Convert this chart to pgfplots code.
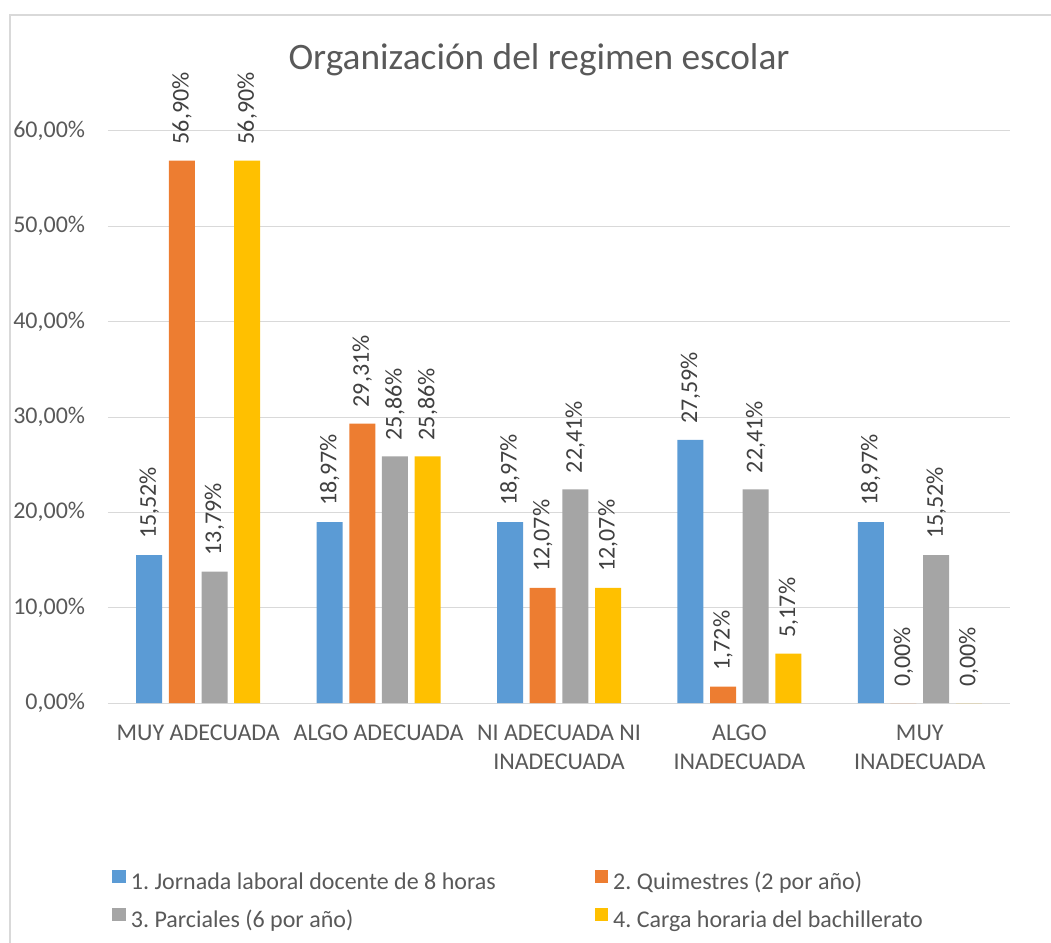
\documentclass[border=0pt]{standalone}
\usepackage{fontspec}
\setmainfont{Carlito}
\usepackage{pgfplots}
\pgfplotsset{compat=1.18}
\definecolor{sA}{HTML}{5B9BD5}
\definecolor{sB}{HTML}{ED7D31}
\definecolor{sC}{HTML}{A5A5A5}
\definecolor{sD}{HTML}{FFC000}
\definecolor{txt}{HTML}{595959}
\definecolor{lbl}{HTML}{404040}
\definecolor{grd}{HTML}{D9D9D9}
\frenchspacing
\begin{document}
\begin{tikzpicture}
\useasboundingbox (-81pt,-180pt) rectangle (707.25pt,527.25pt);
\draw[grd, line width=1.5pt] (-73.5pt,-185pt) -- (-73.5pt,516pt) -- (712pt,516pt);
\begin{axis}[
  at={(0pt,0pt)}, anchor=south west,
  scale only axis, width=676.5pt, height=429pt,
  xmin=-0.5, xmax=4.5, ymin=0, ymax=60,
  enlargelimits=false, clip=false,
  ybar=5pt, bar width=19.5pt,
  axis line style={draw=none},
  major tick length=0pt,
  ymajorgrids, major grid style={grd, line width=0.75pt},
  ytick={0,10,...,60},
  xtick={0,1,2,3,4},
  xticklabels={MUY ADECUADA, ALGO ADECUADA, {NI ADECUADA NI\\INADECUADA}, {ALGO\\INADECUADA}, {MUY\\INADECUADA}},
  /pgf/number format/assume math mode=true,
  yticklabel={\pgfmathprintnumber[fixed,fixed zerofill,precision=2,use comma]{\tick}\%},
  yticklabel style={font=\fontsize{18}{21.6}\selectfont, text=txt, inner sep=0pt, xshift=-17pt, anchor=east},
  xticklabel style={font=\fontsize{18}{21.6}\selectfont, text=txt, inner sep=0pt, yshift=-16.5pt, anchor=north, align=center},
  nodes near coords={\pgfmathprintnumber[fixed,fixed zerofill,precision=2,use comma]{\pgfplotspointmeta}\%},
  nodes near coords style={font=\fontsize{18}{21.6}\selectfont, text=lbl, rotate=90, anchor=west, inner xsep=12pt, inner ysep=0pt},
  legend columns=2,
  legend cell align=left,
  legend image code/.code={\fill[#1] (0pt,0pt) rectangle (10pt,10pt);},
  legend style={at={(rel axis cs:0.0044,-0.291)}, anchor=north west, draw=none, fill=none,
    font=\fontsize{18}{21.6}\selectfont, text=txt, inner sep=0pt,
    nodes={inner sep=0pt, text height=13pt, text depth=4pt},
    row sep=10pt,
    /tikz/every odd column/.append style={column sep=4pt},
    /tikz/every even column/.append style={column sep=74pt}},
]
\addplot[fill=sA, draw=none] coordinates {(0,15.52) (1,18.97) (2,18.97) (3,27.59) (4,18.97)};
\addlegendentry{1. Jornada laboral docente de 8 horas}
\addplot[fill=sB, draw=none] coordinates {(0,56.90) (1,29.31) (2,12.07) (3,1.72) (4,0.00)};
\addlegendentry{2. Quimestres (2 por año)}
\addplot[fill=sC, draw=none] coordinates {(0,13.79) (1,25.86) (2,22.41) (3,22.41) (4,15.52)};
\addlegendentry{3. Parciales (6 por año)}
\addplot[fill=sD, draw=none] coordinates {(0,56.90) (1,25.86) (2,12.07) (3,5.17) (4,0.00)};
\addlegendentry{4. Carga horaria del bachillerato}
\end{axis}
\node[anchor=base, text=txt, font=\fontsize{28}{33}\selectfont, inner sep=0pt] at (323.25pt,474.75pt) {Organización del regimen escolar};
\end{tikzpicture}
\end{document}
